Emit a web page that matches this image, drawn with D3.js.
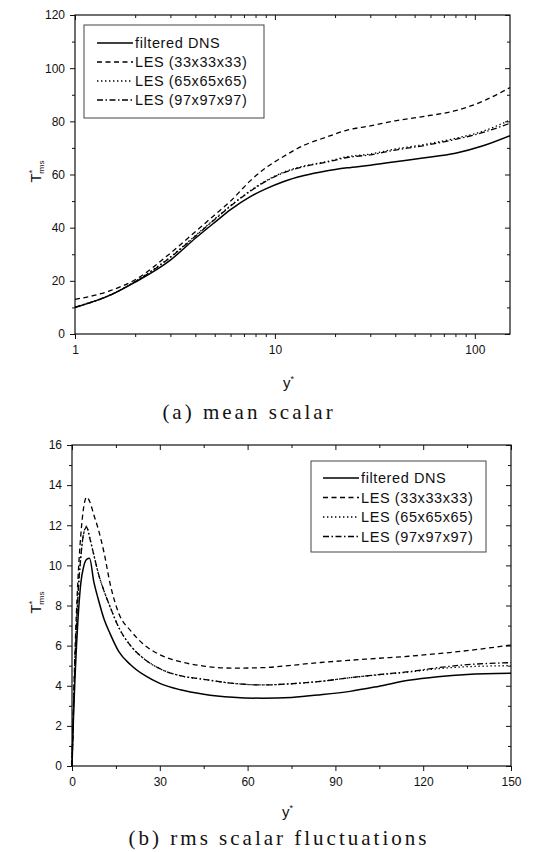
<!DOCTYPE html>
<html>
<head>
<meta charset="utf-8">
<script src="https://cdn.jsdelivr.net/npm/d3@7"></script>
<style>
  body { margin: 0; background: #fff; }
  svg { display: block; font-family: Arial, "Liberation Sans", sans-serif; }
</style>
</head>
<body>
<svg width="534" height="852"></svg>
<script>
const seriesNames = ['filtered DNS', 'LES (33x33x33)', 'LES (65x65x65)', 'LES (97x97x97)']

// (a) mean scalar, y+ on a log axis
const yPlusA = [1, 1.5, 2, 3, 4, 5, 6, 7.5, 9, 11, 14, 18, 23, 30, 40, 55, 80, 110, 150]
const dnsA   = [10, 14.6, 19.5, 27.8, 36, 42, 46.8, 51.6, 54.6, 57.3, 59.6, 61.3, 62.5, 63.5, 64.8, 66.2, 68, 70.8, 74.6]
const les33A = [13, 16.3, 20.4, 30.4, 38.5, 44.8, 50, 57.5, 62.5, 66.7, 71, 74, 76.7, 78.3, 80.2, 81.8, 84, 87.6, 92.7]
const les65A = [10.2, 14.7, 19.8, 29, 37, 43.3, 48.3, 53.8, 57.6, 60.8, 63.2, 64.8, 66.7, 67.7, 69.6, 71.2, 73.6, 76.3, 80.5]
const les97A = [10.1, 14.6, 19.7, 28.8, 36.8, 43.1, 48.1, 53.6, 57.4, 60.6, 63, 64.6, 66.4, 67.4, 69.2, 70.8, 73.2, 75.8, 79.3]

// (b) rms scalar fluctuations
const yPlusB = [0, 0.5, 1, 1.5, 2, 3, 4, 5, 6, 7.5, 9, 11, 13, 16, 20, 25, 30, 37, 45, 55, 65, 75, 85, 95, 105, 115, 125, 135, 150]
const dnsB   = [0, 2.4, 4.3, 5.9, 7.2, 9.1, 9.95, 10.3, 10.35, 9.15, 8.3, 7.3, 6.6, 5.7, 5.05, 4.5, 4.12, 3.8, 3.58, 3.43, 3.38, 3.42, 3.55, 3.72, 3.98, 4.27, 4.45, 4.56, 4.62]
const les33B = [0, 3, 5.6, 7.6, 9.2, 11.5, 12.9, 13.4, 13.2, 12.5, 11.8, 10.6, 9.1, 7.6, 6.75, 6, 5.55, 5.2, 4.98, 4.88, 4.9, 5.02, 5.16, 5.27, 5.37, 5.47, 5.6, 5.75, 6.03]
const les65B = [0, 2.7, 5.1, 6.9, 8.4, 10.4, 11.6, 11.95, 11.4, 10.5, 9.6, 8.7, 7.94, 6.9, 6, 5.3, 4.85, 4.5, 4.32, 4.12, 4.04, 4.1, 4.22, 4.4, 4.55, 4.68, 4.85, 4.95, 5]
const les97B = [0, 2.7, 5.1, 6.9, 8.4, 10.4, 11.6, 11.9, 11.4, 10.5, 9.6, 8.7, 7.94, 6.9, 6, 5.3, 4.85, 4.5, 4.32, 4.12, 4.04, 4.1, 4.22, 4.4, 4.56, 4.7, 4.9, 5.05, 5.15]

const dashes = [null, '5,3.5', '1.4,2.6', '6,2.5,1.5,2.5']
const svg = d3.select('svg')

function drawChart(cfg) {
  const { x, y } = cfg
  const g = svg.append('g')
  const [x0, x1] = x.range(), [y0, y1] = y.range()

  // labelled axes, ticks outward
  const addAxis = (axis, transform, labels) => {
    const a = g.append('g').attr('transform', transform).call(axis)
    a.select('.domain').remove()
    a.selectAll('line').attr('stroke', '#111')
    a.selectAll('text').attr('font-size', labels ? '12px' : null).attr('fill', '#111')
    return a
  }
  addAxis(d3.axisLeft(y).tickValues(cfg.yTicks).tickSize(5).tickPadding(5), `translate(${x0},0)`, true)
  addAxis(d3.axisLeft(y).tickValues(cfg.yMinor).tickSize(3).tickFormat(''), `translate(${x0},0)`)
  addAxis(d3.axisBottom(x).tickValues(cfg.xTicks).tickSize(5).tickPadding(6).tickFormat(d3.format('d')), `translate(0,${y0})`, true)
  addAxis(d3.axisBottom(x).tickValues(cfg.xMinor).tickSize(3).tickFormat(''), `translate(0,${y0})`)
  // mirror ticks, pointing inward
  addAxis(d3.axisTop(x).tickValues(cfg.xTicks).tickSize(-5).tickFormat(''), `translate(0,${y1})`)
  addAxis(d3.axisTop(x).tickValues(cfg.xMinor).tickSize(-3).tickFormat(''), `translate(0,${y1})`)
  addAxis(d3.axisRight(y).tickValues(cfg.yTicks).tickSize(-5).tickFormat(''), `translate(${x1},0)`)
  addAxis(d3.axisRight(y).tickValues(cfg.yMinor).tickSize(-3).tickFormat(''), `translate(${x1},0)`)

  g.append('rect')
    .attr('x', x0).attr('y', y1)
    .attr('width', x1 - x0).attr('height', y0 - y1)
    .attr('fill', 'none').attr('stroke', '#111').attr('stroke-width', 1.2)

  const line = d3.line()
    .x(d => x(d[0]))
    .y(d => y(d[1]))
    .curve(d3.curveMonotoneX)

  cfg.series.forEach((vals, i) => {
    g.append('path')
      .datum(cfg.xs.map((v, j) => [v, vals[j]]))
      .attr('d', line)
      .attr('fill', 'none')
      .attr('stroke', '#000')
      .attr('stroke-width', i === 0 ? 1.5 : 1.3)
      .attr('stroke-dasharray', dashes[i])
  })

  // legend (positions inside the box)
  const L = cfg.legend
  const lg = g.append('g').attr('transform', `translate(${L.x},${L.y})`)
  lg.append('rect')
    .attr('width', L.w).attr('height', L.h)
    .attr('fill', '#fff').attr('stroke', '#444').attr('stroke-width', 1)
  seriesNames.forEach((name, i) => {
    const ry = L.row0 + i * L.step
    lg.append('line')
      .attr('x1', L.lineX).attr('x2', L.lineX + 36)
      .attr('y1', ry).attr('y2', ry)
      .attr('stroke', '#000').attr('stroke-width', 1.3)
      .attr('stroke-dasharray', dashes[i])
    lg.append('text')
      .attr('x', L.lineX + 38).attr('y', ry)
      .attr('dy', '0.35em')
      .attr('font-size', '14.5px')
      .attr('letter-spacing', '0.6px')
      .attr('fill', '#111')
      .text(name)
  })

  // y label T*rms
  const yl = g.append('text')
    .attr('transform', `translate(41,${(y0 + y1) / 2 - 3}) rotate(-90)`)
    .attr('text-anchor', 'middle')
    .attr('font-size', '15px')
    .attr('fill', '#111')
  yl.append('tspan').text('T')
  yl.append('tspan').attr('dy', -6).attr('font-size', '9px').text('*')
  yl.append('tspan').attr('dy', 9).attr('dx', -4).attr('font-size', '8px').text('rms')

  // x label y*
  const xl = g.append('text')
    .attr('x', (x0 + x1) / 2 - 4).attr('y', cfg.xLabelY)
    .attr('text-anchor', 'middle')
    .attr('font-size', '15px')
    .attr('fill', '#111')
  xl.append('tspan').text('y')
  xl.append('tspan').attr('dy', -6).attr('font-size', '9px').text('*')

  svg.append('text')
    .attr('x', cfg.captionX).attr('y', cfg.captionY)
    .attr('text-anchor', 'middle')
    .attr('font-family', '"Liberation Serif", "DejaVu Serif", serif')
    .attr('font-size', '21px')
    .attr('letter-spacing', '3px')
    .attr('fill', '#111')
    .text(cfg.caption)
}

drawChart({
  x: d3.scaleLog().domain([1, 150]).range([75, 510]),
  y: d3.scaleLinear().domain([0, 120]).range([334, 15]),
  xs: yPlusA,
  series: [dnsA, les33A, les65A, les97A],
  xTicks: [1, 10, 100],
  xMinor: [2, 3, 4, 5, 6, 7, 8, 9, 20, 30, 40, 50, 60, 70, 80, 90],
  yTicks: d3.range(0, 121, 20),
  yMinor: d3.range(10, 120, 20),
  legend: { x: 84, y: 25, w: 180, h: 93, lineX: 13, row0: 18, step: 19 },
  xLabelY: 388,
  caption: '(a)  mean scalar',
  captionX: 249,
  captionY: 419
})

drawChart({
  x: d3.scaleLinear().domain([0, 150]).range([72, 511]),
  y: d3.scaleLinear().domain([0, 16]).range([766, 445]),
  xs: yPlusB,
  series: [dnsB, les33B, les65B, les97B],
  xTicks: d3.range(0, 151, 30),
  xMinor: d3.range(15, 150, 30),
  yTicks: d3.range(0, 17, 2),
  yMinor: d3.range(1, 16, 2),
  legend: { x: 311, y: 461, w: 175, h: 91, lineX: 12, row0: 17, step: 19.5 },
  xLabelY: 817,
  caption: '(b)  rms scalar fluctuations',
  captionX: 279,
  captionY: 845
})
</script>
</body>
</html>
